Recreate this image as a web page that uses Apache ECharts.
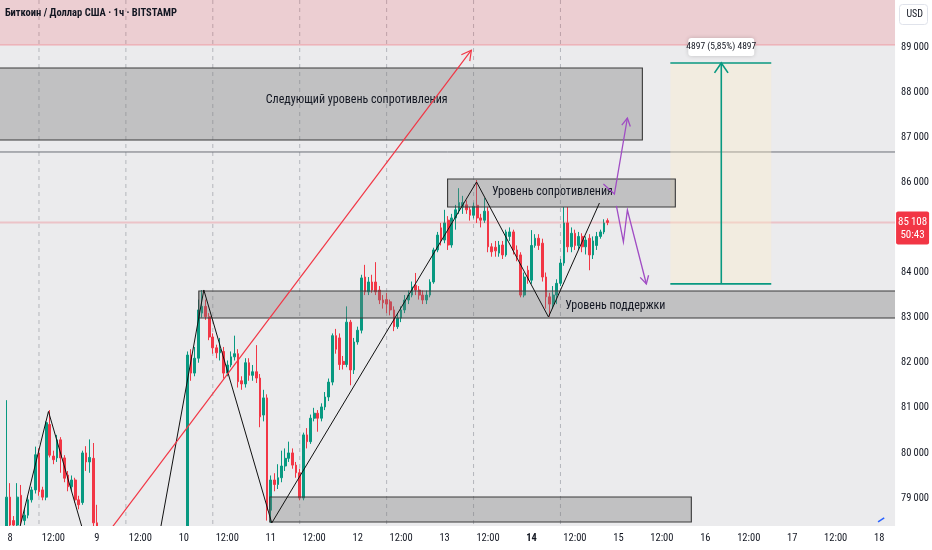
<!DOCTYPE html>
<html><head><meta charset="utf-8">
<script src="https://cdn.jsdelivr.net/npm/echarts@6/dist/echarts.min.js"></script>
<style>html,body{margin:0;padding:0;background:#fff}#c{width:932px;height:550px}</style>
</head><body><div id="c"></div>
<script>
// ---------- data ----------
const chartTitle = 'Биткоин / Доллар США · 1ч · BITSTAMP';
const currencyLabel = 'USD';
const countdown = '50:43';
const firstHour = -1; // hours since 8th 00:00, one candle per hour
const opens = [78350,79020,78500,78400,79060,78500,78620,78960,79180,80000,79180,79020,80630,79930,79890,80290,79890,79510,79250,79400,78960,78900,80000,79800,79880,78450,77900,
77200,76800,77100,76700,76300,76600,76200,76500,77000,76800,77200,77000,76600,76100,75500,75900,76400,76200,76700,77200,76900,77300,77000,
77100,82170,81770,82100,83100,83250,83020,82570,82330,82220,82250,81770,81950,82130,82200,81600,81530,82000,81720,81800,81660,80840,81220,78730,79400,79300,79450,79710,79880,80000,79730,
79560,79000,80400,80250,80770,80880,80770,81020,81240,81570,82600,82550,82030,81960,82900,81840,82460,82720,83900,83570,83790,83790,83610,83390,83400,83350,83170,82800,82990,83170,83390,83500,83720,83610,83500,83390,
83500,83790,84500,84990,84720,85160,84610,85210,85390,85450,85500,85390,85270,85490,85210,85160,85360,84570,84560,84430,84610,84390,84800,84900,84500,84390,83500,84050,83830,84600,84760,84650,83900,83460,83300,83500,83760,84210,85100,84570,84870,84600,84800,84570,84760,84390,84600,84800,84900,85150];
const closes = [79020,78400,78400,79020,78490,78620,78960,79180,79960,79140,79020,80670,79950,79850,80290,79890,79440,79250,79400,78960,78850,80000,79800,79900,78450,77900,77200,
76800,77100,76700,76300,76600,76200,76500,77000,76800,77200,77000,76600,76100,75500,75900,76400,76200,76700,77200,76900,77300,77000,77100,
82170,81770,82100,83170,83250,83020,82570,82330,82220,82300,81770,81950,82130,82200,81580,81530,82000,81720,81800,81660,80800,81220,78730,79400,79300,79450,79710,79880,80000,79730,79560,
79000,80400,80250,80770,80880,80770,81020,81240,81570,82600,82300,81960,81960,82900,81840,82460,82720,83880,83570,83790,83610,83570,83390,83330,83300,83170,82800,82990,83170,83390,83500,83680,83610,83500,83390,83500,
83790,84500,84830,84720,85100,84610,85210,85390,85550,85550,85390,85270,85470,85210,85160,85360,84570,84460,84480,84610,84390,84900,84900,84500,84340,83500,83900,83830,84600,84760,84600,83900,83460,83300,83500,83760,84210,85100,84570,84870,84600,84800,84570,84720,84390,84700,84800,84900,85100,85108];
const lows = [78200,78300,78300,78350,78400,78400,78550,78900,79100,79050,78950,78950,79900,79750,79800,79560,79350,79150,79150,78900,78750,78850,79600,79560,78350,77500,76800,
76500,76600,76400,76000,76100,75900,76000,76400,76600,76700,76800,76400,75900,75200,75300,75800,76000,76100,76600,76700,76800,76800,76900,
76900,81600,81700,82000,83000,82950,82500,82200,82100,82050,81650,81700,81900,82050,81450,81400,81450,81600,81600,81550,80570,80700,78500,78450,79150,79200,79350,79600,79800,79650,79450,
78950,78950,80100,80200,80700,80470,80700,80950,81150,81500,82200,81840,81850,81900,81500,81750,82400,82650,83500,83500,83550,83500,83300,83200,83100,83050,82700,82750,82900,83100,83300,83450,83500,83400,83300,83300,
83450,83750,84450,84600,84650,84500,84550,84950,85300,85300,85300,85150,85200,85100,85000,85100,84450,84350,84350,84350,84300,84350,84700,84400,84250,83450,83450,83750,83750,84550,84500,83800,83200,83020,83200,83300,83700,84150,84450,84450,84500,84500,84450,84400,84050,84300,84500,84750,84850,85050];
const highs = [81170,79330,78600,79330,79290,78750,79050,79250,80140,80100,79250,80700,80950,80050,80400,80350,79950,79600,79500,79450,79050,80050,80150,80300,80220,78850,78300,
77400,77300,77200,76900,76800,76700,76800,77200,77300,77500,77400,77100,76700,76300,76100,76600,76700,76900,77500,77400,77600,77500,77400,
82250,82300,82350,83400,83610,83400,83100,82650,82400,82550,82350,82050,82250,82600,82300,81700,82100,82100,81950,82390,81750,81400,81300,79500,79550,79750,80050,80100,80250,80100,79800,
79650,80450,80550,80850,81000,80950,81100,81350,81650,82650,82750,82650,82150,83250,82950,82550,82800,83950,84170,83900,83950,84230,83700,83500,83550,83400,83250,83100,83250,83500,83600,83800,83990,83700,83600,83600,
83850,84550,84900,85100,85390,85250,85300,85500,85870,85700,85600,85450,85550,86050,85300,85650,85450,84650,84700,84700,84700,84950,85000,84950,84600,84450,84000,84150,84940,84850,84850,84750,84000,83550,83700,83850,84300,85450,85450,85000,84950,84900,84870,84800,84850,84800,84900,84950,85180,85200];
const xTickHours = [0,12,24,36,48,60,72,84,96,108,120,132,144,156,168,180,192,204,216,228,240];
const firstDay = 8, boldDay = 14;
const yTickPrices = [79000,80000,81000,82000,83000,84000,86000,87000,88000,89000];
const sessionHours = [8,32,56,80,104,128,152];
// drawings, in chart units (hour, price)
const redZone = [-8, 260, 90600, 89044];
const boxes = [[-8,174.62,88534,86938],[120.83,183.72,86074,85453],[52.14,260,83591,82993],[71.72,188.14,79024,78469]];
const boxTexts = [['Следующий уровень сопротивления',95.72,87825],['Уровень сопротивления',149.79,85785],['Уровень поддержки',167.17,83258]];
const levelPrice = 86672;
const zigzagA = [[2.21,78181],[10.62,80919],[20.5,78181]];
const zigzagB = [[41.24,78181],[53.52,83613],[72.28,78447],[128.83,86007],[148.69,83014],[162.76,85541]];
const redArrow = [[27.03,78225],[127.4,88930]];
const purpleUp = [[163.86,85963],[166.9,85741],[170.48,87426]];
const purpleDown = [[167.45,85475],[169.38,84677],[170.48,85386],[175.72,83746]];
const measureHours = [182.34,196.41,210.21];
const measurePrices = [88645,83748];
const measureText = '4897 (5,85%) 4897';
const blueStub = [[239.7,78469],[241.4,78558]];
const xMin = -2.76, xMax = 244.4, yMin = 78380, yMax = 90042;

// ---------- build ----------
const candles = opens.map((o,i)=>[firstHour+i, o, closes[i], lows[i], highs[i]]);
const lastClose = closes[closes.length-1];
const FONT = '"Liberation Sans Narrow", "Roboto Condensed", "Arial Narrow", Roboto, sans-serif';
function fmt(v){const s=String(Math.round(v));return s.slice(0,-3)+'\u2009'+s.slice(-3);}
function head(tip, from, len, ang){
  const dx=from[0]-tip[0], dy=from[1]-tip[1], d=Math.hypot(dx,dy), ux=dx/d, uy=dy/d;
  const r=a=>[tip[0]+len*(ux*Math.cos(a)-uy*Math.sin(a)), tip[1]+len*(ux*Math.sin(a)+uy*Math.cos(a))];
  return [r(ang), tip, r(-ang)];
}
function clipOf(cs){return {type:'rect', shape:{x:cs.x, y:cs.y, width:cs.width, height:cs.height}};}

function renderSessions(params, api){
  const kids = sessionHours.map(h=>{const a=api.coord([h,yMax]), b=api.coord([h,yMin]);
    return {type:'line', shape:{x1:a[0],y1:a[1],x2:b[0],y2:b[1]}, style:{stroke:'#b4b6bc', lineWidth:1, lineDash:[4,4]}};});
  return {type:'group', children:kids, clipPath:clipOf(params.coordSys)};
}

function renderOverlay(params, api){
  const C = (h,p)=>api.coord([h,p]);
  const rectOf=(h0,h1,pt,pb)=>{const a=C(h0,pt), b=C(h1,pb);return {x:a[0],y:a[1],width:b[0]-a[0],height:b[1]-a[1]};};
  const poly=(pts,stroke,w)=>({type:'polyline', shape:{points:pts}, style:{stroke, lineWidth:w, fill:null}});
  const kids=[];
  kids.push({type:'rect', shape:rectOf(...redZone), style:{fill:'rgba(242,54,69,0.16)'}});
  kids.push(poly([C(redZone[0],redZone[3]), C(redZone[1],redZone[3])], 'rgba(242,54,69,0.35)', 1));
  kids.push(poly([C(xMin-5,levelPrice), C(xMax+5,levelPrice)], '#6b6e76', 1));
  kids.push(poly([C(xMin-5,lastClose), C(xMax+5,lastClose)], 'rgba(242,54,69,0.22)', 2));
  const mt = C(measureHours[1], measurePrices[0]), mb = C(measureHours[1], measurePrices[1]);
  kids.push({type:'rect', shape:rectOf(measureHours[0],measureHours[2],measurePrices[0],measurePrices[1]), style:{fill:'rgba(255,238,200,0.35)'}});
  kids.push(poly([C(measureHours[0],measurePrices[0]), C(measureHours[2],measurePrices[0])], '#089981', 1.6));
  kids.push(poly([C(measureHours[0],measurePrices[1]), C(measureHours[2],measurePrices[1])], '#089981', 1.6));
  kids.push(poly([mb, mt], '#089981', 1.6));
  kids.push(poly(head(mt, mb, 12, 0.6), '#089981', 1.6));
  boxes.forEach(b=>kids.push({type:'rect', shape:rectOf(...b), style:{fill:'rgba(120,120,120,0.36)', stroke:'#3a3a3a', lineWidth:1.1}}));
  boxTexts.forEach(t=>{const p=C(t[1],t[2]);kids.push({type:'text', x:p[0], y:p[1], style:{text:t[0], fill:'#131722', fontSize:12, fontFamily:FONT, align:'center', verticalAlign:'middle'}});});
  kids.push(poly(zigzagA.map(q=>C(q[0],q[1])), '#111', 1));
  kids.push(poly(zigzagB.map(q=>C(q[0],q[1])), '#111', 1));
  const ra = redArrow.map(q=>C(q[0],q[1]));
  kids.push(poly(ra, '#f23645', 1.2));
  kids.push(poly(head(ra[1], ra[0], 11, 0.5), '#f23645', 1.2));
  const pu = purpleUp.map(q=>C(q[0],q[1])), pd = purpleDown.map(q=>C(q[0],q[1]));
  kids.push(poly(pu, '#a04cc4', 1.3));
  kids.push(poly(head(pu[pu.length-1], pu[pu.length-2], 9, 0.5), '#a04cc4', 1.3));
  kids.push(poly(pd, '#a04cc4', 1.3));
  kids.push(poly(head(pd[pd.length-1], pd[pd.length-2], 9, 0.5), '#a04cc4', 1.3));
  kids.push(poly(blueStub.map(q=>C(q[0],q[1])), '#2962ff', 1.5));
  kids.push({type:'rect', shape:{x:mt[0]-33, y:mt[1]-25, width:66, height:18, r:3}, style:{fill:'#ffffff', shadowBlur:4, shadowColor:'rgba(0,0,0,0.18)'}});
  kids.push({type:'text', x:mt[0], y:mt[1]-16, style:{text:measureText, fill:'#131722', fontSize:9.5, fontFamily:FONT, align:'center', verticalAlign:'middle'}});
  return {type:'group', children:kids, clipPath:clipOf(params.coordSys)};
}

function renderTag(params, api){
  const p = api.coord([xMax, lastClose]);
  return {type:'group', children:[
    {type:'rect', shape:{x:p[0]+1, y:p[1]-11, width:33, height:33, r:2}, style:{fill:'#f23645'}},
    {type:'text', x:p[0]+17.5, y:p[1], style:{text:fmt(lastClose), fill:'#fff', fontSize:11, fontFamily:FONT, align:'center', verticalAlign:'middle'}},
    {type:'text', x:p[0]+17.5, y:p[1]+13, style:{text:countdown, fill:'#fff', fontSize:11, fontFamily:FONT, align:'center', verticalAlign:'middle'}}
  ]};
}

const chart = echarts.init(document.getElementById('c'));
chart.setOption({
  animation:false,
  backgroundColor:'#ffffff',
  title:{text:chartTitle, left:0, top:3, z:20, textStyle:{fontSize:10.5, fontWeight:'bold', color:'#131722', fontFamily:FONT}},
  graphic:[
    {type:'rect', left:0, bottom:0, z:50, shape:{width:932, height:24}, style:{fill:'#ffffff'}},
    {type:'rect', right:4, top:4, z:60, shape:{width:28, height:20, r:3}, style:{fill:'#ffffff', stroke:'#e0e3eb'}},
    {type:'text', right:9, top:9, z:61, style:{text:currencyLabel, fill:'#131722', fontSize:10, fontFamily:FONT}}
  ],
  grid:{left:0, right:36, top:0, bottom:24, show:true, backgroundColor:'#ebebed', borderWidth:0},
  xAxis:{type:'value', z:60, min:xMin, max:xMax, splitLine:{show:false}, axisLine:{show:false}, axisTick:{show:false},
    axisLabel:{customValues:xTickHours, margin:7, color:'#131722', fontSize:10.5, fontFamily:FONT,
      formatter:v=>{ if(v%24!==0) return '12:00'; const d=firstDay+v/24; return d===boldDay?'{b|'+d+'}':String(d);},
      rich:{b:{fontWeight:'bold', fontSize:10.5, color:'#131722', fontFamily:FONT}}}},
  yAxis:{type:'value', z:60, position:'right', min:yMin, max:yMax, splitLine:{show:false}, axisLine:{show:false}, axisTick:{show:false},
    axisLabel:{customValues:yTickPrices, margin:6, color:'#131722', fontSize:10.5, fontFamily:FONT, formatter:v=>fmt(v)}},
  series:[
    {type:'custom', z:1, clip:true, silent:true, data:[[0,yMin]], renderItem:renderSessions},
    {type:'candlestick', z:2, data:candles, encode:{x:0, y:[1,2,3,4]}, barWidth:2.2, clip:true, silent:true,
      itemStyle:{color:'#089981', color0:'#f23645', borderColor:'#089981', borderColor0:'#f23645', borderWidth:1}},
    {type:'custom', z:3, clip:true, silent:true, data:[[0,yMin]], renderItem:renderOverlay},
    {type:'custom', z:70, clip:false, silent:true, data:[[0,yMin]], renderItem:renderTag}
  ]
});
</script></body></html>
